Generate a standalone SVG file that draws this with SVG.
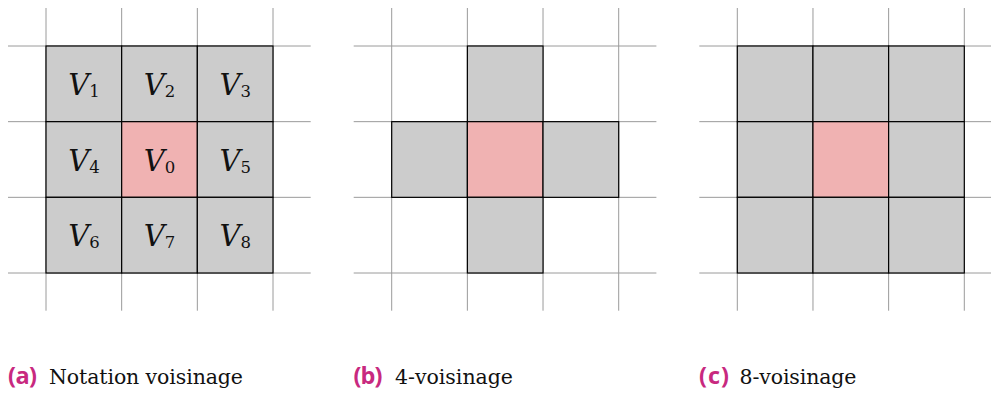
<svg xmlns="http://www.w3.org/2000/svg" xmlns:xlink="http://www.w3.org/1999/xlink" width="991" height="394" viewBox="0 0 991 394">
<style>
.gl{stroke:#9a9a9a;stroke-width:1;fill:none}
.cell{fill:#cccccc;stroke:#000;stroke-width:1.2}
.ctr{fill:#f0b2b2;stroke:#000;stroke-width:1.2}
.lbl{font-family:"DejaVu Serif",serif;font-style:italic;font-size:29px;fill:#111;text-anchor:middle}
.sub{font-style:normal;font-size:16.5px}
.tag{font-family:"Open Sans","Liberation Sans",sans-serif;font-weight:bold;font-size:23.5px;fill:#c8297f}
.cap{font-family:"DejaVu Serif",serif;font-size:20.5px;fill:#111}
</style>
<defs>
<g id="gridlines">
<path class="gl" d="M0,-38V264.7M75.67,-38V264.7M151.33,-38V264.7M227,-38V264.7M-38,0H264.7M-38,75.67H264.7M-38,151.33H264.7M-38,227H264.7"/>
</g>
</defs>
<g id="grid-a-lines"><use xlink:href="#gridlines" transform="translate(46,46)"/></g>
<g id="grid-b-lines"><use xlink:href="#gridlines" transform="translate(391.7,46)"/></g>
<g id="grid-c-lines"><use xlink:href="#gridlines" transform="translate(737.3,46)"/></g>

<g id="a-cells">
<g id="a1"><rect class="cell" x="46" y="46" width="75.67" height="75.67"/><text class="lbl" x="84" y="95">V<tspan class="sub" dy="2">1</tspan></text></g>
<g id="a2"><rect class="cell" x="121.67" y="46" width="75.67" height="75.67"/><text class="lbl" x="159.5" y="95">V<tspan class="sub" dy="2">2</tspan></text></g>
<g id="a3"><rect class="cell" x="197.33" y="46" width="75.67" height="75.67"/><text class="lbl" x="235.2" y="95">V<tspan class="sub" dy="2">3</tspan></text></g>
<g id="a4"><rect class="cell" x="46" y="121.67" width="75.67" height="75.67"/><text class="lbl" x="84" y="170.7">V<tspan class="sub" dy="2">4</tspan></text></g>
<g id="a0"><rect class="ctr" x="121.67" y="121.67" width="75.67" height="75.67"/><text class="lbl" x="159.5" y="170.7">V<tspan class="sub" dy="2">0</tspan></text></g>
<g id="a5"><rect class="cell" x="197.33" y="121.67" width="75.67" height="75.67"/><text class="lbl" x="235.2" y="170.7">V<tspan class="sub" dy="2">5</tspan></text></g>
<g id="a6"><rect class="cell" x="46" y="197.33" width="75.67" height="75.67"/><text class="lbl" x="84" y="246.3">V<tspan class="sub" dy="2">6</tspan></text></g>
<g id="a7"><rect class="cell" x="121.67" y="197.33" width="75.67" height="75.67"/><text class="lbl" x="159.5" y="246.3">V<tspan class="sub" dy="2">7</tspan></text></g>
<g id="a8"><rect class="cell" x="197.33" y="197.33" width="75.67" height="75.67"/><text class="lbl" x="235.2" y="246.3">V<tspan class="sub" dy="2">8</tspan></text></g>
</g>

<g id="b-cells">
<g id="b-top"><rect class="cell" x="467.37" y="46" width="75.67" height="75.67"/></g>
<g id="b-left"><rect class="cell" x="391.7" y="121.67" width="75.67" height="75.67"/></g>
<g id="b-center"><rect class="ctr" x="467.37" y="121.67" width="75.67" height="75.67"/></g>
<g id="b-right"><rect class="cell" x="543.03" y="121.67" width="75.67" height="75.67"/></g>
<g id="b-bottom"><rect class="cell" x="467.37" y="197.33" width="75.67" height="75.67"/></g>
</g>

<g id="c-cells">
<g id="c1"><rect class="cell" x="737.3" y="46" width="75.67" height="75.67"/></g>
<g id="c2"><rect class="cell" x="812.97" y="46" width="75.67" height="75.67"/></g>
<g id="c3"><rect class="cell" x="888.63" y="46" width="75.67" height="75.67"/></g>
<g id="c4"><rect class="cell" x="737.3" y="121.67" width="75.67" height="75.67"/></g>
<g id="c0"><rect class="ctr" x="812.97" y="121.67" width="75.67" height="75.67"/></g>
<g id="c5"><rect class="cell" x="888.63" y="121.67" width="75.67" height="75.67"/></g>
<g id="c6"><rect class="cell" x="737.3" y="197.33" width="75.67" height="75.67"/></g>
<g id="c7"><rect class="cell" x="812.97" y="197.33" width="75.67" height="75.67"/></g>
<g id="c8"><rect class="cell" x="888.63" y="197.33" width="75.67" height="75.67"/></g>
</g>

<g id="captions">
<text class="tag" x="8" y="384" textLength="29">(a)</text>
<text class="cap" x="49" y="384" textLength="194">Notation voisinage</text>
<text class="tag" x="353.5" y="384" textLength="29">(b)</text>
<text class="cap" x="395" y="384" textLength="118">4-voisinage</text>
<text class="tag" x="699" y="384" textLength="30">(c)</text>
<text class="cap" x="739.5" y="384" textLength="117">8-voisinage</text>
</g>
</svg>
